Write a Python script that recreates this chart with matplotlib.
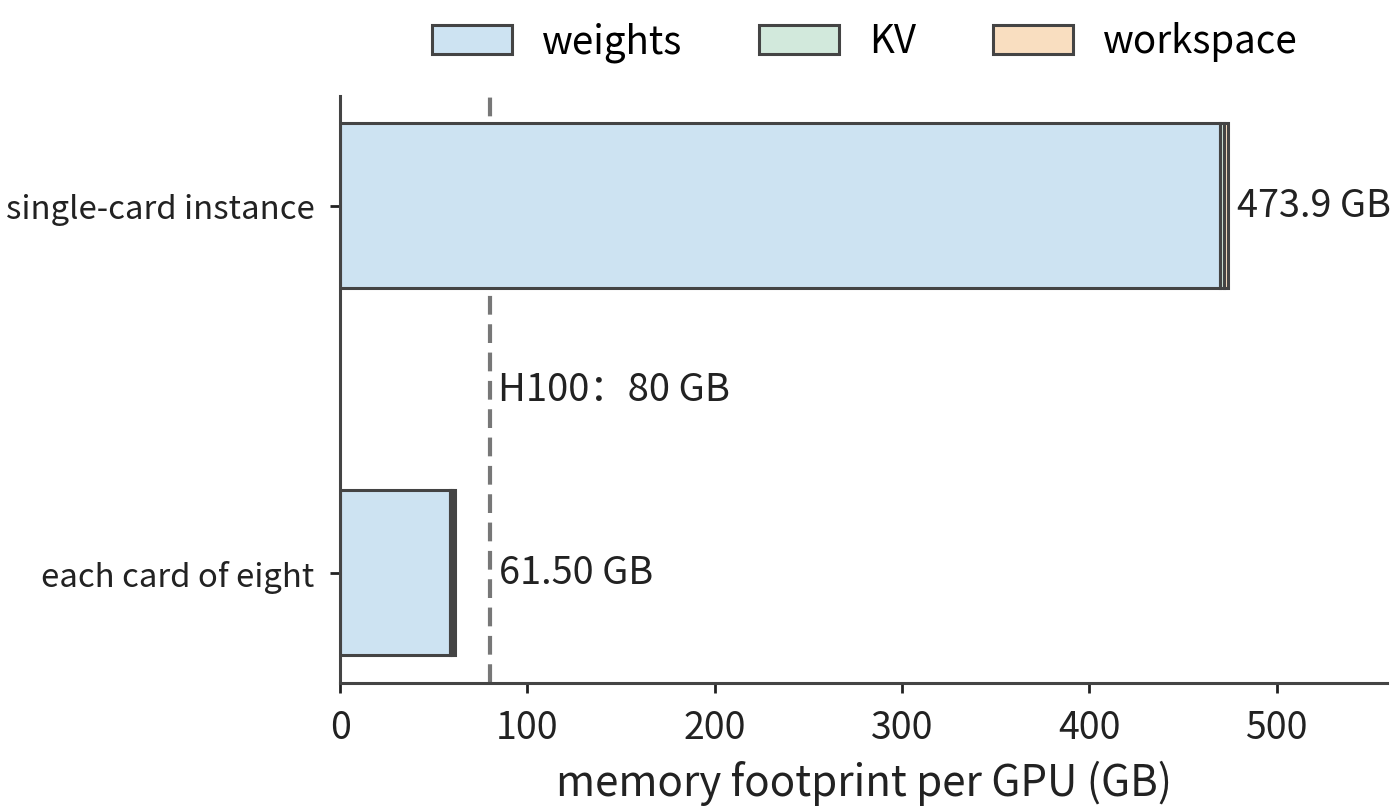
import matplotlib
matplotlib.use("Agg")
import matplotlib.pyplot as plt
from matplotlib.patches import Patch
import numpy as np

plt.rcParams['font.family'] = ['Noto Sans CJK SC', 'DejaVu Sans']

categories = ["each card of eight", "single-card instance"]
weights = [58.75, 470.0]
kv = [0.75, 1.9]
workspace = [2.0, 2.0]
totals = [61.50, 473.9]
total_labels = ["61.50 GB", "473.9 GB"]
h100_cap = 80
h100_label = "H100：80 GB"
series_names = ["weights", "KV", "workspace"]
colors = ["#cde3f2", "#d2e9dc", "#f9dec0"]
edge = "#444444"
txt = "#222222"

fig = plt.figure(figsize=(14, 8.12), dpi=100)
ax = fig.add_axes([0.243, 0.158, 0.748, 0.723])

y = np.arange(len(categories))
h = 0.45
left = np.zeros(len(categories))
for vals, c, name in zip([weights, kv, workspace], colors, series_names):
    ax.barh(y, vals, height=h, left=left, color=c, edgecolor=edge, linewidth=2.2, label=name)
    left = left + np.array(vals)

ax.axvline(h100_cap, color="#777777", linestyle=(0, (4.5, 2.3)), linewidth=3, zorder=0)
ax.text(h100_cap + 4, 0.5, h100_label, fontsize=27.5, color=txt, va="center", ha="left")

for yi, t, lab in zip(y, totals, total_labels):
    ax.text(max(t, h100_cap) + 5, yi, lab, fontsize=27.3, color=txt, va="center", ha="left")

ax.set_yticks(y)
ax.set_yticklabels(categories, fontsize=23.7, color=txt)
ax.set_xlim(0, max(totals) * 1.18)
ax.set_ylim(-0.3, 1.3)
ax.set_xticks([0, 100, 200, 300, 400, 500])
ax.tick_params(axis='x', labelsize=27, colors=txt, length=7.5, width=2, direction="out", pad=11)
ax.tick_params(axis='y', length=7.5, width=2, direction="out", colors=txt, pad=11)
ax.set_xlabel("memory footprint per GPU (GB)", fontsize=30.3, color=txt, labelpad=9)
for s in ["top", "right"]:
    ax.spines[s].set_visible(False)
for s in ["left", "bottom"]:
    ax.spines[s].set_color(edge)
    ax.spines[s].set_linewidth(2.2)

handles = [Patch(facecolor=c, edgecolor=edge, linewidth=2.2, label=n) for c, n in zip(colors, series_names)]
fig.legend(handles=handles, loc="upper center", bbox_to_anchor=(0.618, 1.015), ncol=3, frameon=False,
           fontsize=27.7, handlelength=2.08, handleheight=0.78, columnspacing=2.0, handletextpad=0.78)

fig.savefig("out.png", dpi=100)
